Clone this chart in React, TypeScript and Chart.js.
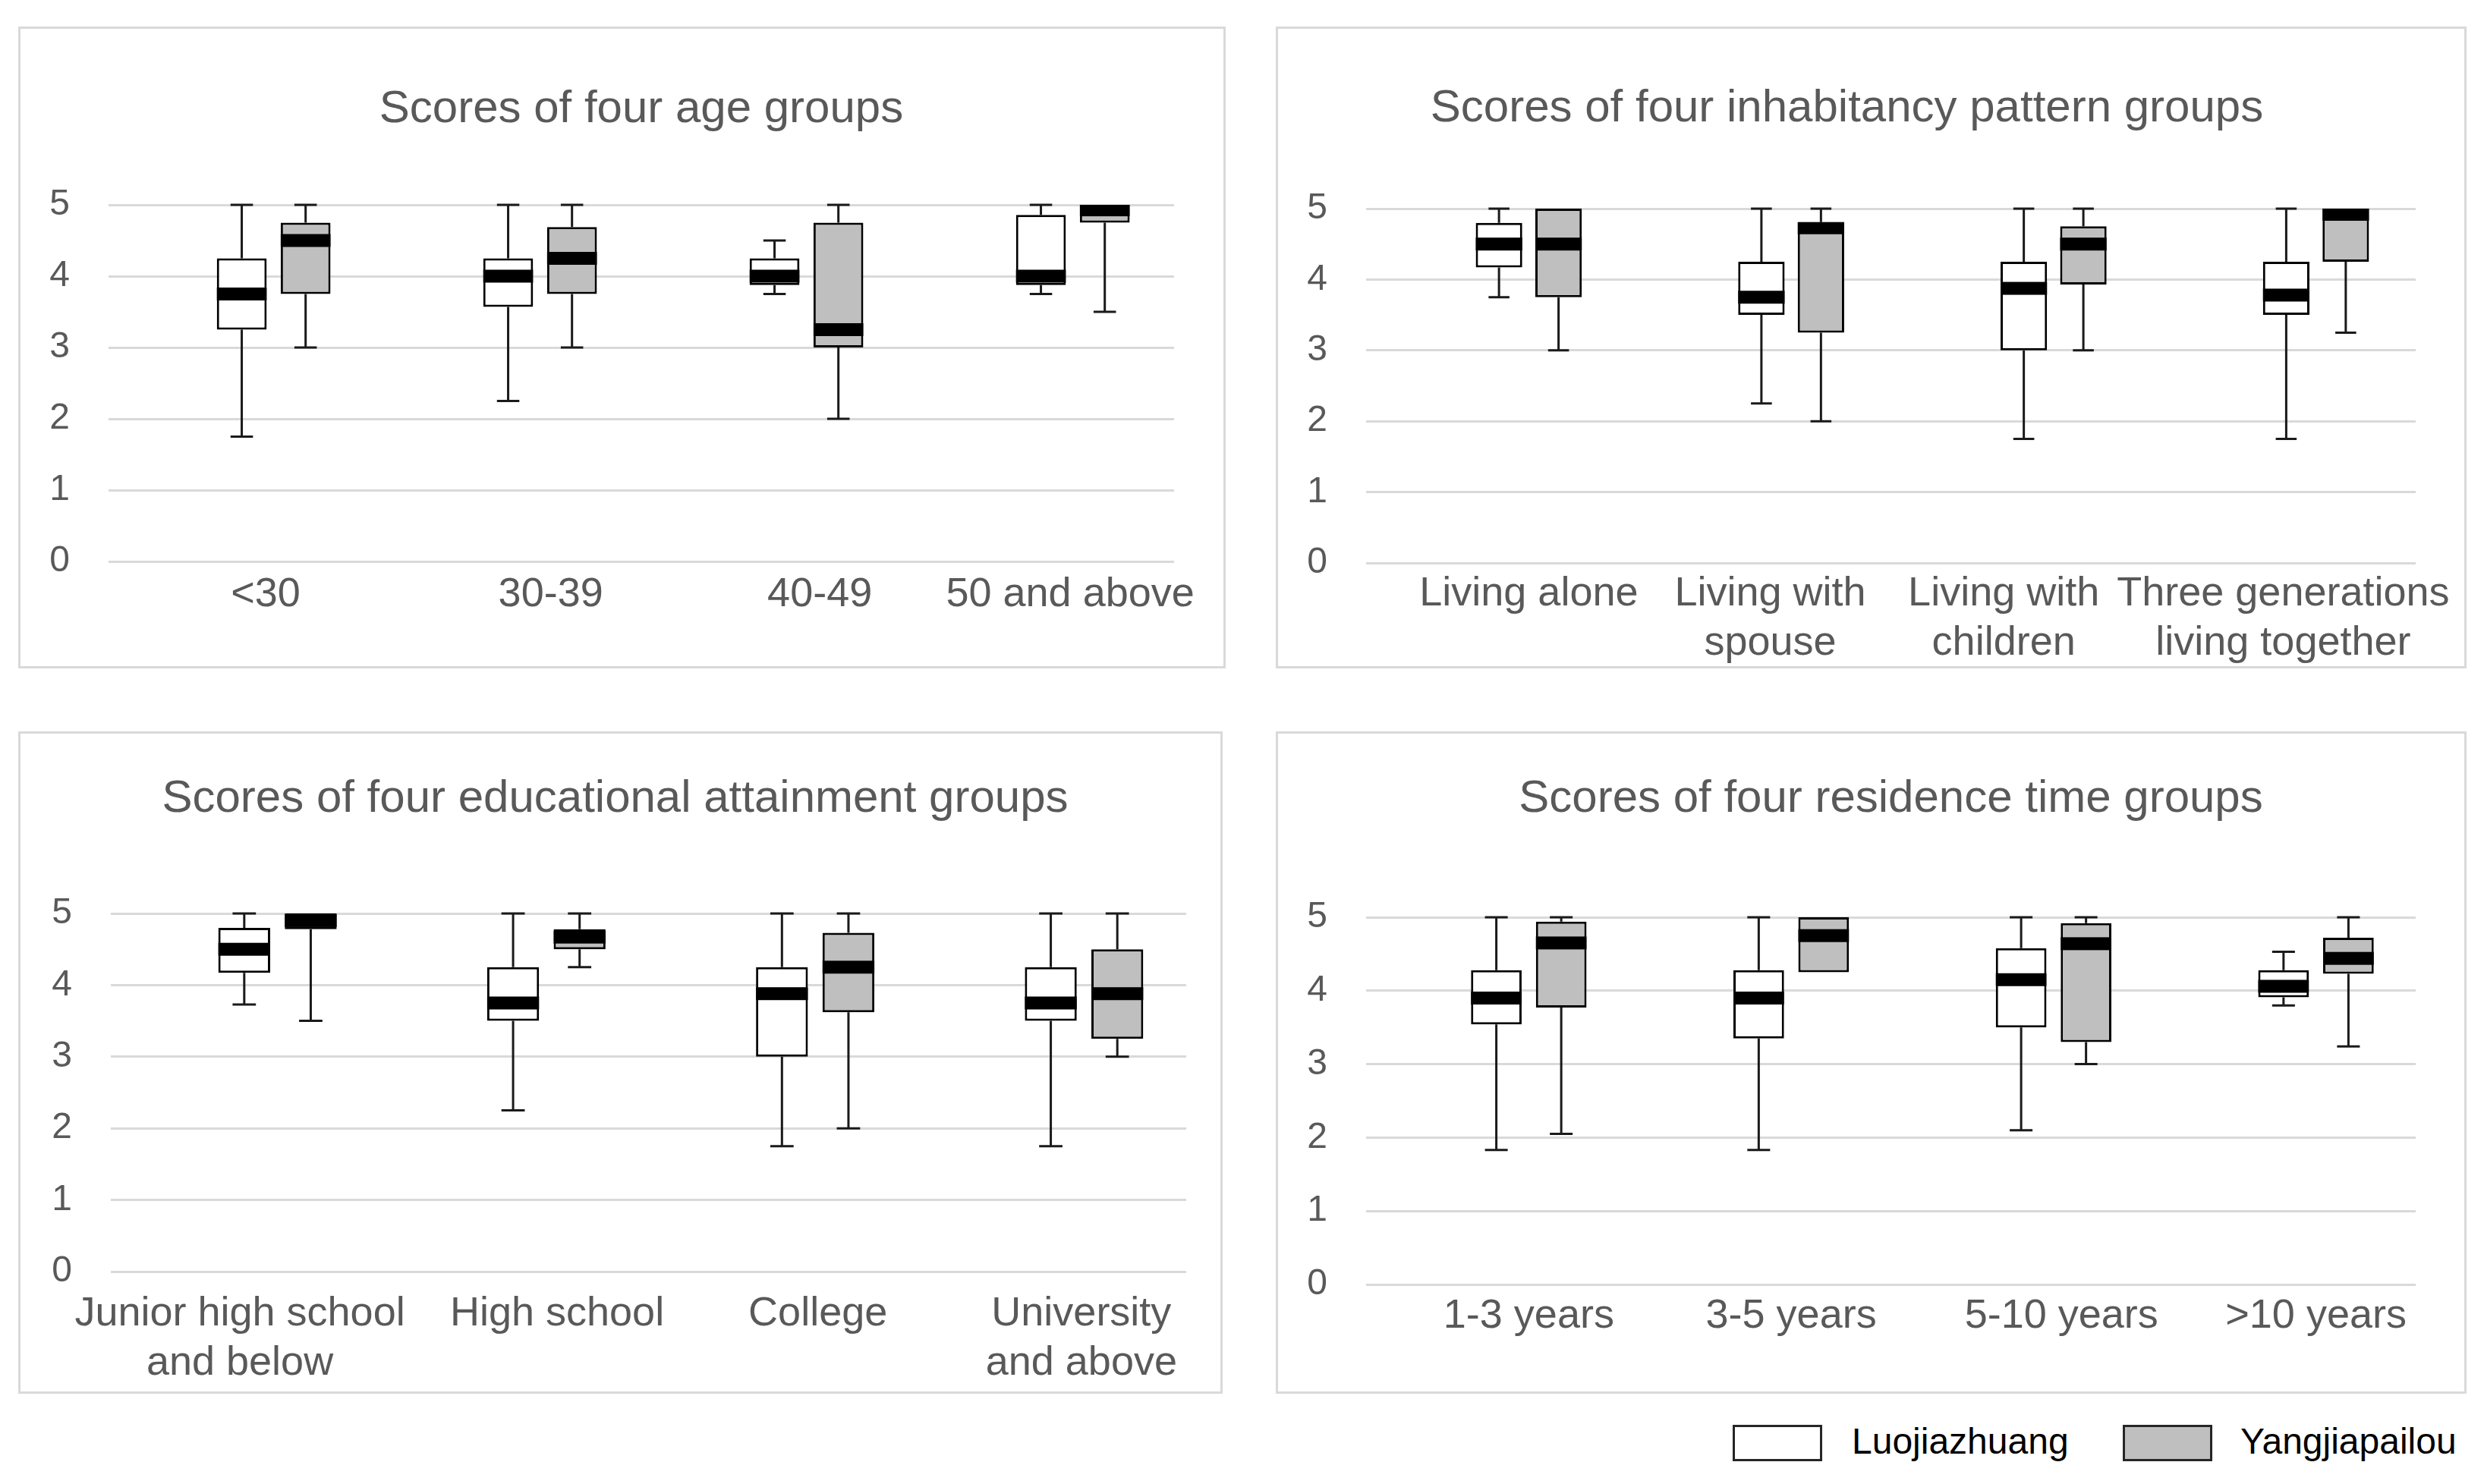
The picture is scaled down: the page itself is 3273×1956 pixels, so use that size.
import React, { useEffect, useRef } from 'react';
import { Chart, registerables } from 'chart.js';

Chart.register(...registerables);

// ---------------- DATA ----------------
// Each entry: [minimum, first quartile, median, third quartile, maximum]
const SERIES_NAMES = ['Luojiazhuang', 'Yangjiapailou'];

const AGE_TITLE = 'Scores of four age groups';
const AGE_CATEGORIES = ['<30', '30-39', '40-49', '50 and above'];
const AGE_LUOJIAZHUANG = [
  [1.75, 3.25, 3.75, 4.25, 5],
  [2.25, 3.57, 4.0, 4.25, 5],
  [3.75, 3.875, 4.0, 4.25, 4.5],
  [3.75, 3.875, 4.0, 4.86, 5],
];
const AGE_YANGJIAPAILOU = [
  [3.0, 3.75, 4.5, 4.75, 5],
  [3.0, 3.75, 4.25, 4.69, 5],
  [2.0, 3.0, 3.25, 4.75, 5],
  [3.5, 4.75, 4.93, 5, 5],
];

const INHABIT_TITLE = 'Scores of four inhabitancy pattern groups';
const INHABIT_CATEGORIES = [
  ['Living alone'],
  ['Living with', 'spouse'],
  ['Living with', 'children'],
  ['Three generations', 'living together'],
];
const INHABIT_LUOJIAZHUANG = [
  [3.75, 4.17, 4.5, 4.8, 5],
  [2.25, 3.5, 3.75, 4.25, 5],
  [1.75, 3.0, 3.875, 4.25, 5],
  [1.75, 3.5, 3.78, 4.25, 5],
];
const INHABIT_YANGJIAPAILOU = [
  [3.0, 3.75, 4.5, 5, 5],
  [2.0, 3.25, 4.73, 4.81, 5],
  [3.0, 3.93, 4.5, 4.75, 5],
  [3.25, 4.25, 4.92, 5, 5],
];

const EDU_TITLE = 'Scores of four educational attainment groups';
const EDU_CATEGORIES = [
  ['Junior high school', 'and below'],
  ['High school'],
  ['College'],
  ['University', 'and above'],
];
const EDU_LUOJIAZHUANG = [
  [3.73, 4.17, 4.5, 4.8, 5],
  [2.25, 3.5, 3.75, 4.25, 5],
  [1.75, 3.0, 3.88, 4.25, 5],
  [1.75, 3.5, 3.75, 4.25, 5],
];
const EDU_YANGJIAPAILOU = [
  [3.5, 4.78, 4.9, 5, 5],
  [4.25, 4.5, 4.67, 4.78, 5],
  [2.0, 3.62, 4.25, 4.73, 5],
  [3.0, 3.25, 3.88, 4.5, 5],
];

const RES_TITLE = 'Scores of four residence time groups';
const RES_CATEGORIES = ['1-3 years', '3-5 years', '5-10 years', '>10 years'];
const RES_LUOJIAZHUANG = [
  [1.83, 3.54, 3.9, 4.28, 5],
  [1.83, 3.35, 3.9, 4.28, 5],
  [2.1, 3.5, 4.15, 4.58, 5],
  [3.8, 3.91, 4.06, 4.28, 4.53],
];
const RES_YANGJIAPAILOU = [
  [2.05, 3.77, 4.65, 4.94, 5],
  [4.25, 4.25, 4.75, 5, 5],
  [3.0, 3.3, 4.64, 4.92, 5],
  [3.24, 4.23, 4.44, 4.72, 5],
];

const Y_MIN = 0;
const Y_MAX = 5;
const Y_STEP = 1;

// ---------------- STYLE ----------------
const FONT = '"Liberation Sans", Arial, Helvetica, sans-serif';
const TEXT_GRAY = '#595959';
const GRID_GRAY = '#d9d9d9';
const FILLS = ['#ffffff', '#bfbfbf'];
const LINE_DARK = '#1a1a1a';
const BORDER = 3;
const TITLE_SIZE = 60;
const TITLE_LH = 1.2;
const XTICK_SIZE = 54;
const YTICK_SIZE = 48;
const YTICK_PAD = 51;
const MIN_Y_WIDTH = 88;
const MEDIAN_THICK = 17;
const CAP_RATIO = 0.45;
const X_MIN = -0.62;
const X_MAX = 3.38;

type Layout = {
  box: { left: number; top: number; width: number; height: number };
  chart: { l: number; r: number; t: number; b: number };
  title: { x: number; y: number };
  tickPad: number;
  labelShift: number[];
};

const PANELS: {
  title: string;
  categories: (string | string[])[];
  series: number[][][];
  layout: Layout;
}[] = [
  {
    title: AGE_TITLE,
    categories: AGE_CATEGORIES,
    series: [AGE_LUOJIAZHUANG, AGE_YANGJIAPAILOU],
    layout: {
      box: { left: 24, top: 35, width: 1591, height: 846 },
      chart: { l: 143, r: 1547, t: 270, b: 740 },
      title: { x: 836, y: 144 },
      tickPad: 4,
      labelShift: [-0.03, 0.04, 0.05, -0.01],
    },
  },
  {
    title: INHABIT_TITLE,
    categories: INHABIT_CATEGORIES,
    series: [INHABIT_LUOJIAZHUANG, INHABIT_YANGJIAPAILOU],
    layout: {
      box: { left: 1681, top: 35, width: 1569, height: 846 },
      chart: { l: 1800, r: 3183, t: 275, b: 742 },
      title: { x: 2430, y: 143 },
      tickPad: 1,
      labelShift: [0, -0.08, -0.19, -0.125],
    },
  },
  {
    title: EDU_TITLE,
    categories: EDU_CATEGORIES,
    series: [EDU_LUOJIAZHUANG, EDU_YANGJIAPAILOU],
    layout: {
      box: { left: 24, top: 964, width: 1587, height: 873 },
      chart: { l: 146, r: 1563, t: 1204, b: 1676 },
      title: { x: 816, y: 1053 },
      tickPad: 16,
      labelShift: [-0.14, 0.04, 0.01, -0.01],
    },
  },
  {
    title: RES_TITLE,
    categories: RES_CATEGORIES,
    series: [RES_LUOJIAZHUANG, RES_YANGJIAPAILOU],
    layout: {
      box: { left: 1681, top: 964, width: 1569, height: 873 },
      chart: { l: 1800, r: 3183, t: 1209, b: 1693 },
      title: { x: 2498, y: 1053 },
      tickPad: 2,
      labelShift: [0, 0, 0.03, 0],
    },
  },
];

// Draws whiskers (before the boxes) and median bands (after the boxes)
const boxWhiskerPlugin = {
  id: 'boxWhisker',
  beforeDatasetsDraw(chart: any) {
    const ctx = chart.ctx;
    const yScale = chart.scales.y;
    chart.data.datasets.forEach((ds: any, di: number) => {
      const meta = chart.getDatasetMeta(di);
      meta.data.forEach((el: any, i: number) => {
        const [mn, q1, , q3, mx] = ds.stats[i];
        const { x, width } = el.getProps(['x', 'width'], true);
        const cap = width * CAP_RATIO;
        ctx.save();
        ctx.strokeStyle = LINE_DARK;
        ctx.lineWidth = 3;
        ctx.beginPath();
        if (mx > q3) {
          const p3 = yScale.getPixelForValue(q3);
          const pMax = yScale.getPixelForValue(mx);
          ctx.moveTo(x, p3);
          ctx.lineTo(x, pMax);
          ctx.moveTo(x - cap / 2, pMax);
          ctx.lineTo(x + cap / 2, pMax);
        }
        if (mn < q1) {
          const p1 = yScale.getPixelForValue(q1);
          const pMin = yScale.getPixelForValue(mn);
          ctx.moveTo(x, p1);
          ctx.lineTo(x, pMin);
          ctx.moveTo(x - cap / 2, pMin);
          ctx.lineTo(x + cap / 2, pMin);
        }
        ctx.stroke();
        ctx.restore();
      });
    });
  },
  afterDatasetsDraw(chart: any) {
    const ctx = chart.ctx;
    const yScale = chart.scales.y;
    chart.data.datasets.forEach((ds: any, di: number) => {
      const meta = chart.getDatasetMeta(di);
      meta.data.forEach((el: any, i: number) => {
        const [, q1, med, q3] = ds.stats[i];
        const { x, width } = el.getProps(['x', 'width'], true);
        const pMed = yScale.getPixelForValue(med);
        const top = Math.max(pMed - MEDIAN_THICK / 2, yScale.getPixelForValue(q3));
        const bot = Math.min(pMed + MEDIAN_THICK / 2, yScale.getPixelForValue(q1));
        ctx.save();
        ctx.fillStyle = '#000000';
        ctx.fillRect(x - width / 2, top, width, bot - top);
        ctx.restore();
      });
    });
  },
};

function BoxPanel({ panel }: { panel: (typeof PANELS)[number] }) {
  const ref = useRef<HTMLCanvasElement>(null);
  const { layout } = panel;
  const W = layout.box.width - 2 * BORDER;
  const H = layout.box.height - 2 * BORDER;

  useEffect(() => {
    const canvas = ref.current;
    if (!canvas) return;
    const ox = layout.box.left + BORDER;
    const oy = layout.box.top + BORDER;
    const cl = layout.chart.l - ox;
    const cr = layout.chart.r - ox;
    const ct = layout.chart.t - oy;
    const cb = layout.chart.b - oy;
    const tx = layout.title.x - ox;
    const ty = layout.title.y - oy;
    const padRight = W - cr;

    // choose how the title is centred: across the whole canvas or across the plot area
    const maxPadLeft = Math.max(0, cl - MIN_Y_WIDTH);
    const padFull = Math.max(0, Math.min(2 * tx - cr, maxPadLeft));
    const errFull = Math.abs((padFull + cr) / 2 - tx);
    const errArea = Math.abs((cl + cr) / 2 - tx);
    const titleFull = errFull <= errArea;
    const padLeft = titleFull ? padFull : 0;
    const yWidth = cl - padLeft;

    const tLine = TITLE_SIZE * TITLE_LH;
    const titleTop = ty - tLine / 2;
    const titleBottom = ct - ty - tLine / 2;
    const xHeight = H - cb;
    const cats = panel.categories;
    const shifts = layout.labelShift;

    const chart = new Chart(canvas, {
      type: 'bar',
      data: {
        datasets: panel.series.map((stats, si) => ({
          label: SERIES_NAMES[si],
          data: stats.map((s, i) => ({ x: i, y: [s[1], s[3]] })),
          stats,
          backgroundColor: FILLS[si],
          borderColor: '#000000',
          borderWidth: 3,
          borderSkipped: false,
          categoryPercentage: 0.51,
          barPercentage: 0.78,
          clip: false,
        })) as any,
      },
      options: {
        animation: false,
        responsive: true,
        maintainAspectRatio: false,
        layout: { padding: { left: padLeft, right: padRight, top: 0, bottom: 0 } },
        plugins: {
          legend: { display: false },
          tooltip: { enabled: false },
          title: {
            display: true,
            fullSize: titleFull,
            text: panel.title,
            color: TEXT_GRAY,
            font: { family: FONT, size: TITLE_SIZE, weight: 'normal', lineHeight: TITLE_LH },
            padding: { top: titleTop, bottom: titleBottom },
          },
        },
        scales: {
          x: {
            type: 'linear',
            min: X_MIN,
            max: X_MAX,
            bounds: 'data',
            offset: false,
            grid: { display: false },
            border: { display: false },
            afterBuildTicks: (scale: any) => {
              scale.ticks = cats.map((_, i) => ({ value: i + (shifts[i] || 0) }));
            },
            afterFit: (scale: any) => {
              scale.height = xHeight;
              scale.paddingLeft = 0;
              scale.paddingRight = 0;
            },
            ticks: {
              autoSkip: false,
              maxRotation: 0,
              minRotation: 0,
              padding: layout.tickPad,
              color: TEXT_GRAY,
              font: { family: FONT, size: XTICK_SIZE, lineHeight: 1.2 },
              callback: (_v: any, index: number) => cats[index] as any,
            },
          },
          y: {
            min: Y_MIN,
            max: Y_MAX,
            grid: { color: GRID_GRAY, lineWidth: 3, drawTicks: false },
            border: { display: false },
            afterFit: (scale: any) => {
              scale.width = yWidth;
            },
            ticks: {
              stepSize: Y_STEP,
              padding: YTICK_PAD,
              color: TEXT_GRAY,
              font: { family: FONT, size: YTICK_SIZE },
            },
          },
        } as any,
      },
      plugins: [boxWhiskerPlugin],
    });
    return () => chart.destroy();
  }, [panel]);

  return (
    <div
      style={{
        position: 'absolute',
        left: layout.box.left,
        top: layout.box.top,
        width: layout.box.width,
        height: layout.box.height,
        border: `${BORDER}px solid ${GRID_GRAY}`,
        boxSizing: 'border-box',
        background: '#ffffff',
      }}
    >
      <div style={{ position: 'relative', width: W, height: H }}>
        <canvas ref={ref} />
      </div>
    </div>
  );
}

function Legend() {
  const items = [
    { name: SERIES_NAMES[0], fill: FILLS[0], boxLeft: 2283, textLeft: 2440 },
    { name: SERIES_NAMES[1], fill: FILLS[1], boxLeft: 2797, textLeft: 2952 },
  ];
  return (
    <>
      {items.map((it) => (
        <React.Fragment key={it.name}>
          <div
            style={{
              position: 'absolute',
              left: it.boxLeft,
              top: 1878,
              width: 118,
              height: 48,
              boxSizing: 'border-box',
              border: '3px solid #262626',
              background: it.fill,
            }}
          />
          <div
            style={{
              position: 'absolute',
              left: it.textLeft,
              top: 1872,
              height: 56,
              lineHeight: '56px',
              fontFamily: FONT,
              fontSize: 48,
              color: '#000000',
              whiteSpace: 'nowrap',
            }}
          >
            {it.name}
          </div>
        </React.Fragment>
      ))}
    </>
  );
}

export default function App() {
  return (
    <div
      style={{
        position: 'absolute',
        left: 0,
        top: 0,
        width: 3273,
        height: 1956,
        overflow: 'hidden',
        background: '#ffffff',
      }}
    >
      {PANELS.map((p) => (
        <BoxPanel key={p.title} panel={p} />
      ))}
      <Legend />
    </div>
  );
}
